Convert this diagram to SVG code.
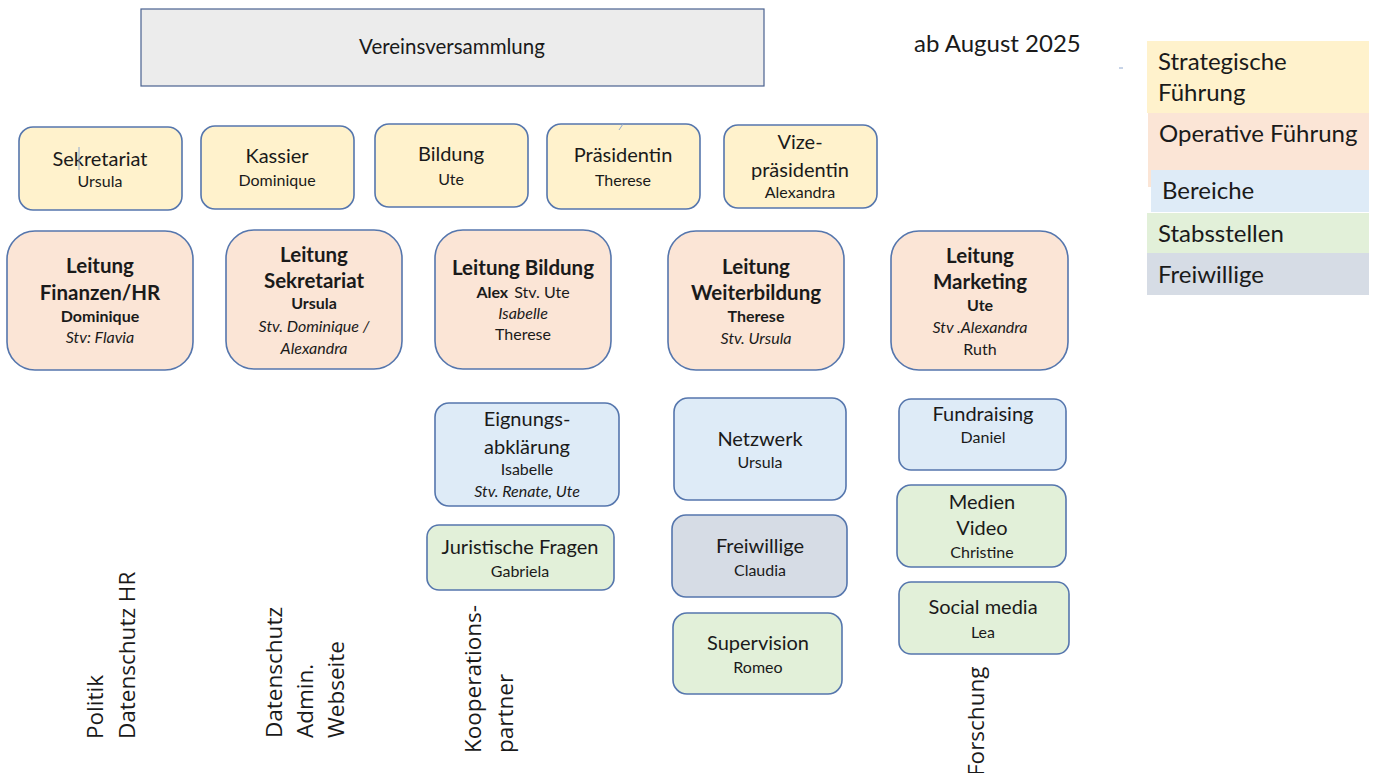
<svg xmlns="http://www.w3.org/2000/svg" width="1375" height="773" viewBox="0 0 1375 773">
<style>
text{font-family:Lato,"Open Sans","Liberation Sans",sans-serif;fill:#1a1a1a;text-anchor:middle}
.box{stroke:#5576ad;stroke-width:1.6}
.y{fill:#fff2cc}.p{fill:#fbe5d6}.b{fill:#deebf7}.g{fill:#e2f0d9}.f{fill:#d6dce5}
.t{font-size:20px}.s{font-size:16px}.h{font-size:20.5px;font-weight:bold}.sb{font-size:16px;font-weight:bold}.i{font-size:16px;font-style:italic}
.v{font-family:"Open Sans","Noto Sans",sans-serif;font-size:22.5px;text-anchor:start}
.lg{font-size:24px;text-anchor:start}
</style>
<g id="vereinsversammlung"><rect x="141" y="9" width="623" height="77" fill="#ececec" stroke="#4a6290" stroke-width="1.2"/><text x="452" y="54" font-size="20.5">Vereinsversammlung</text></g>
<g id="datum"><text x="914" y="52" font-size="24" style="text-anchor:start">ab August 2025</text></g>
<g id="legende">
<rect x="1147" y="41" width="222" height="72" fill="#fff2cc"/>
<rect x="1148" y="113" width="221" height="57" fill="#fbe5d6"/>
<rect x="1148" y="170" width="3" height="17" fill="#fbe5d6"/>
<rect x="1151" y="170" width="218" height="42" fill="#deebf7"/>
<rect x="1147" y="213" width="222" height="40" fill="#e2f0d9"/>
<rect x="1147" y="253" width="222" height="42" fill="#d6dce5"/>
<text class="lg" x="1158" y="70">Strategische</text><text class="lg" x="1158" y="101">Führung</text>
<text class="lg" x="1159" y="142">Operative Führung</text>
<text class="lg" x="1162" y="199">Bereiche</text>
<text class="lg" x="1158" y="242">Stabsstellen</text>
<text class="lg" x="1158" y="283">Freiwillige</text>
<line x1="1119" y1="68" x2="1123" y2="68" stroke="#8fa8d0" stroke-width="1"/>
</g>
<g id="sekretariat"><rect class="box y" x="19" y="127" width="163" height="83" rx="14"/><text class="t" x="100" y="166">Sekretariat</text><text class="s" x="100" y="187">Ursula</text><line x1="79" y1="147" x2="79" y2="170" stroke="#8fa8d0" stroke-width="1"/></g>
<g id="kassier"><rect class="box y" x="201" y="126" width="153" height="83" rx="14"/><text class="t" x="277" y="163">Kassier</text><text class="s" x="277" y="186">Dominique</text></g>
<g id="bildung"><rect class="box y" x="375" y="124" width="153" height="83" rx="14"/><text class="t" x="451" y="161">Bildung</text><text class="s" x="451" y="185">Ute</text></g>
<g id="praesidentin"><rect class="box y" x="547" y="124" width="153" height="85" rx="14"/><text class="t" x="623" y="162">Präsidentin</text><text class="s" x="623" y="186">Therese</text><line x1="619" y1="130" x2="623" y2="124" stroke="#8fa8d0" stroke-width="1"/></g>
<g id="vizepraesidentin"><rect class="box y" x="724" y="125" width="153" height="83" rx="14"/><text class="t" x="800" y="149">Vize-</text><text class="t" x="800" y="177">präsidentin</text><text class="s" x="800" y="198">Alexandra</text></g>
<g id="leitung-finanzen"><rect class="box p" x="7" y="231" width="186" height="139" rx="28"/><text class="h" x="100" y="273">Leitung</text><text class="h" x="100" y="300">Finanzen/HR</text><text class="sb" x="100" y="322">Dominique</text><text class="i" x="100" y="343">Stv: Flavia</text></g>
<g id="leitung-sekretariat"><rect class="box p" x="226" y="230" width="176" height="139" rx="28"/><text class="h" x="314" y="262">Leitung</text><text class="h" x="314" y="288">Sekretariat</text><text class="sb" x="314" y="309">Ursula</text><text class="i" x="314" y="332">Stv. Dominique /</text><text class="i" x="314" y="354">Alexandra</text></g>
<g id="leitung-bildung"><rect class="box p" x="435" y="230" width="176" height="139" rx="28"/><text class="h" x="523" y="275">Leitung Bildung</text><text class="s" x="523" y="298"><tspan font-weight="bold">Alex</tspan><tspan dx="6">Stv. Ute</tspan></text><text class="i" x="523" y="319">Isabelle</text><text class="s" x="523" y="340">Therese</text></g>
<g id="leitung-weiterbildung"><rect class="box p" x="668" y="231" width="176" height="139" rx="28"/><text class="h" x="756" y="274">Leitung</text><text class="h" x="756" y="300">Weiterbildung</text><text class="sb" x="756" y="322">Therese</text><text class="i" x="756" y="344">Stv. Ursula</text></g>
<g id="leitung-marketing"><rect class="box p" x="891" y="231" width="177" height="139" rx="28"/><text class="h" x="980" y="263">Leitung</text><text class="h" x="980" y="289">Marketing</text><text class="sb" x="980" y="311">Ute</text><text class="i" x="980" y="333">Stv .Alexandra</text><text class="s" x="980" y="355">Ruth</text></g>
<g id="eignungsabklaerung"><rect class="box b" x="435" y="403" width="184" height="103" rx="14"/><text class="t" x="527" y="426">Eignungs-</text><text class="t" x="527" y="454">abklärung</text><text class="s" x="527" y="475">Isabelle</text><text class="i" x="527" y="497">Stv. Renate, Ute</text></g>
<g id="juristische-fragen"><rect class="box g" x="427" y="525" width="187" height="65" rx="12"/><text class="t" x="520" y="554">Juristische Fragen</text><text class="s" x="520" y="577">Gabriela</text></g>
<g id="netzwerk"><rect class="box b" x="674" y="398" width="172" height="102" rx="14"/><text class="t" x="760" y="446">Netzwerk</text><text class="s" x="760" y="468">Ursula</text></g>
<g id="freiwillige"><rect class="box f" x="672" y="515" width="175" height="82" rx="14"/><text class="t" x="760" y="553">Freiwillige</text><text class="s" x="760" y="576">Claudia</text></g>
<g id="supervision"><rect class="box g" x="673" y="613" width="169" height="81" rx="14"/><text class="t" x="758" y="650">Supervision</text><text class="s" x="758" y="673">Romeo</text></g>
<g id="fundraising"><rect class="box b" x="899" y="399" width="167" height="71" rx="12"/><text class="t" x="983" y="421">Fundraising</text><text class="s" x="983" y="443">Daniel</text></g>
<g id="medien-video"><rect class="box g" x="897" y="485" width="169" height="82" rx="14"/><text class="t" x="982" y="509">Medien</text><text class="t" x="982" y="535">Video</text><text class="s" x="982" y="558">Christine</text></g>
<g id="social-media"><rect class="box g" x="899" y="582" width="170" height="72" rx="12"/><text class="t" x="983" y="614">Social media</text><text class="s" x="983" y="638">Lea</text></g>
<g id="vertikal">
<text class="v" transform="translate(103,739) rotate(-90)">Politik</text>
<text class="v" transform="translate(135,739) rotate(-90)">Datenschutz HR</text>
<text class="v" transform="translate(282,738) rotate(-90)">Datenschutz</text>
<text class="v" transform="translate(313,738) rotate(-90)">Admin.</text>
<text class="v" transform="translate(344,738) rotate(-90)">Webseite</text>
<text class="v" transform="translate(481,753) rotate(-90)">Kooperations-</text>
<text class="v" transform="translate(513,753) rotate(-90)">partner</text>
<text class="v" transform="translate(984,776) rotate(-90)">Forschung</text>
</g>
<g id="connectors"></g>
</svg>
